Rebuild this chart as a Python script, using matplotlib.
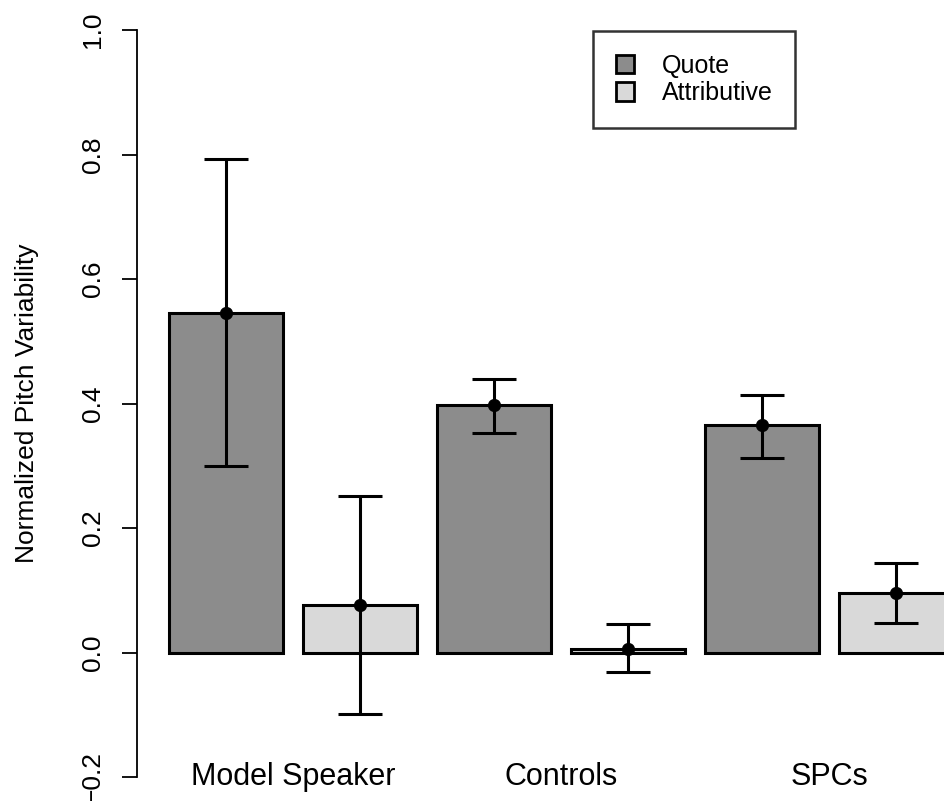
import matplotlib
matplotlib.use("Agg")
import matplotlib.pyplot as plt
from matplotlib.patches import Patch

plt.rcParams['font.family'] = ['Liberation Sans', 'DejaVu Sans']

groups = ["Model Speaker", "Controls", "SPCs"]
conditions = ["Quote", "Attributive"]
means = [0.546, 0.077, 0.397, 0.006, 0.366, 0.096]
err_hi = [0.792, 0.251, 0.440, 0.045, 0.414, 0.143]
err_lo = [0.299, -0.098, 0.352, -0.032, 0.313, 0.048]
colors = ["#8c8c8c", "#d9d9d9"]

W, H = 944, 801
fig = plt.figure(figsize=(W / 100, H / 100), dpi=100)
ax = fig.add_axes([137 / W, (H - 777) / H, 1 - 137 / W, (777 - 30) / H])

x = list(range(len(means)))
bar_colors = [colors[i % 2] for i in x]
ax.bar(x, means, width=0.85, color=bar_colors, edgecolor="black", linewidth=2.2, zorder=2)

lower = [m - lo for m, lo in zip(means, err_lo)]
upper = [hi - m for m, hi in zip(means, err_hi)]
ax.errorbar(x, means, yerr=[lower, upper], fmt="o", color="black", ms=8.5,
            elinewidth=2.2, capsize=16, capthick=2.2, zorder=3)

# axis runs off the right edge, last bar is clipped like in the original
ax.set_xlim(-0.665, (W - 226) / 134)
ax.set_ylim(-0.2, 1.0)
for s in ["top", "right", "bottom"]:
    ax.spines[s].set_visible(False)
ax.spines["left"].set_linewidth(1.3)
ax.set_xticks([])
ax.set_yticks([-0.2, 0.0, 0.2, 0.4, 0.6, 0.8, 1.0])
ax.set_yticklabels(["\u22120.2", "0.0", "0.2", "0.4", "0.6", "0.8", "1.0"],
                   rotation=90, va="center", fontsize=19)
ax.tick_params(axis="y", length=11, width=1.3, pad=12)
ax.set_ylabel("Normalized Pitch Variability", fontsize=19, labelpad=30)

for i, g in enumerate(groups):
    ax.text(2 * i + 0.5, -0.2, g, ha="center", va="center", fontsize=22, clip_on=False)

handles = [Patch(facecolor=c, edgecolor="black", linewidth=2) for c in colors]
leg = ax.legend(handles, conditions, loc="upper left",
                bbox_to_anchor=(593 / W, 1 - 31 / H), bbox_transform=fig.transFigure,
                fontsize=18, frameon=True, fancybox=False, handlelength=0.75,
                handleheight=0.75, handletextpad=1.1, borderpad=0.9, labelspacing=0.15,
                borderaxespad=0)
leg.get_frame().set_edgecolor("black")
leg.get_frame().set_linewidth(1.8)

fig.savefig("out.png", dpi=100)
